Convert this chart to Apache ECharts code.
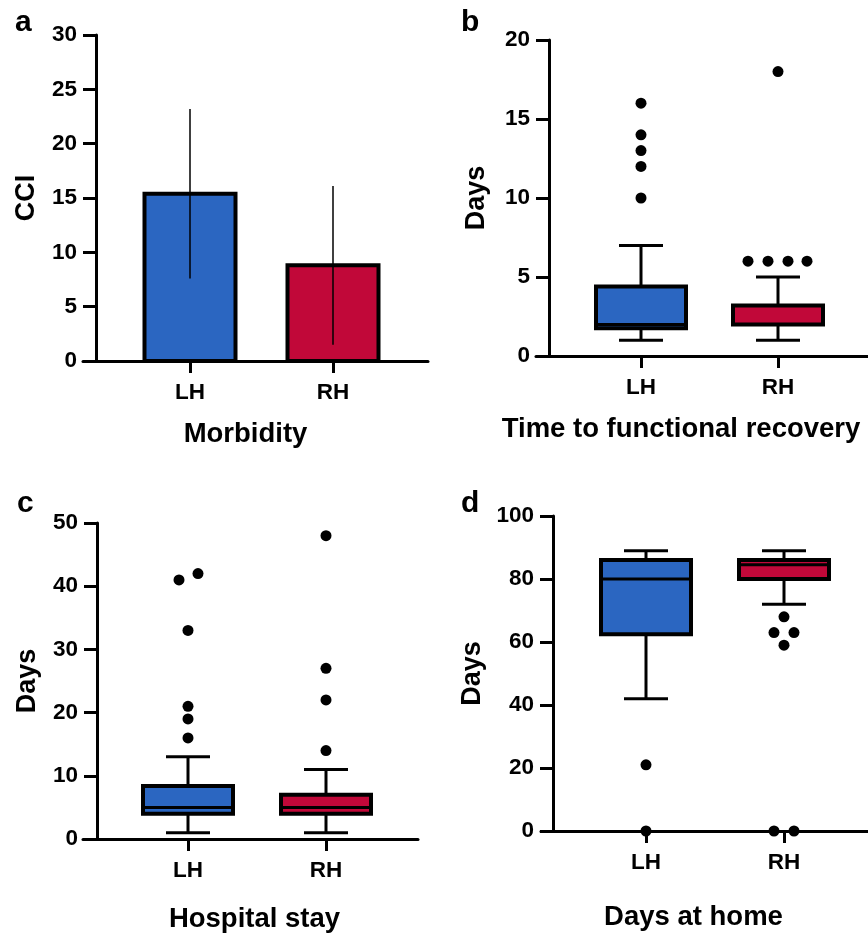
<!DOCTYPE html>
<html><head><meta charset="utf-8">
<script src="https://cdn.jsdelivr.net/npm/echarts@6/dist/echarts.min.js"></script>
<style>html,body{margin:0;padding:0;background:#fff}#c{width:868px;height:935px}</style>
</head><body><div id="c"></div>
<script>
// ---------- data ----------
const groups = ['LH', 'RH'];
const panelLetters = ['a', 'b', 'c', 'd'];
const xNames = ['Morbidity', 'Time to functional recovery', 'Hospital stay', 'Days at home'];
const yNames = ['CCI', 'Days', 'Days', 'Days'];
const yMax = [30, 20, 50, 100];
const yStep = [5, 5, 10, 20];

// a: CCI mean and SD
const cciMean = [15.4, 8.8];
const cciSD = [7.8, 7.3];

// box stats per group: [min whisker, Q1, median, Q3, max whisker]
const recoveryLH = [1, 1.75, 2, 4.4, 7];
const recoveryRH = [1, 2, 2, 3.2, 5];
const recoveryOutLH = [10, 12, 13, 14, 16];
const recoveryOutRH = [6, 6, 6, 6, 18];

const stayLH = [1, 4, 5, 8.4, 13];
const stayRH = [1, 4, 5, 7, 11];
const stayOutLH = [16, 19, 21, 33, 41, 42];
const stayOutRH = [14, 22, 27, 48];

const homeLH = [42, 62.5, 80, 86, 89];
const homeRH = [72, 80, 84.5, 86, 89];
const homeOutLH = [0, 21];
const homeOutRH = [0, 0, 59, 63, 63, 68];

// ---------- layout (pixels, styles) ----------
const LAY = [
  {left: 83,  right: 428, top: 35,  bottom: 361, yAxisX: 96,  lh: 190, rh: 333, nameGap: 59, namePad: [0, 20, 0, 0], yNameGap: 56},
  {left: 536, right: 868, top: 40,  bottom: 356, yAxisX: 549, lh: 641, rh: 778, nameGap: 59, namePad: [0, 42, 0, 0], yNameGap: 59},
  {left: 83,  right: 418, top: 523, bottom: 839, yAxisX: 97,  lh: 188, rh: 326, nameGap: 66, namePad: [0, 0, 0, 8], yNameGap: 56},
  {left: 541, right: 868, top: 516, bottom: 831, yAxisX: 553, lh: 646, rh: 784, nameGap: 72, namePad: [0, 22, 0, 0], yNameGap: 67}
];
const letterPos = [[15, 38], [461, 38], [17, 519], [461, 519]];
// horizontal pixel offsets of outlier dots (to avoid overlap)
const offRecoveryLH = [0, 0, 0, 0, 0];
const offRecoveryRH = [-30, -10, 10, 29, 0];
const offStayLH = [0, 0, 0, 0, -9, 10];
const offStayRH = [0, 0, 0, 0];
const offHomeLH = [0, 0];
const offHomeRH = [-10, 10, 0, -10, 10, 0];

const COLORS = ['#2B66C1', '#C10839'];
const FONT = '"Liberation Sans", Arial, Helvetica, sans-serif';
const BOX_W = 90, CAP_W = 44, BAR_W = 91, DOT = 11;

// ---------- build ----------
const grids = [], xAxes = [], yAxes = [], series = [];
LAY.forEach((L, i) => {
  const span = L.rh - L.lh;
  grids.push({left: L.left, top: L.top, width: L.right - L.left, height: L.bottom - L.top,
              outerBoundsMode: 'none', containLabel: false});
  xAxes.push({
    gridIndex: i, type: 'value',
    min: 1 - (L.lh - L.left) / span, max: 2 + (L.right - L.rh) / span,
    name: xNames[i], nameLocation: 'middle', nameGap: L.nameGap,
    nameTextStyle: {fontFamily: FONT, fontSize: 27.5, fontWeight: 'bold', color: '#000', padding: L.namePad},
    axisLine: {show: true, onZero: false, lineStyle: {color: '#000', width: 3}},
    axisTick: {show: true, customValues: [1, 2], length: 12, lineStyle: {color: '#000', width: 3}},
    axisLabel: {show: true, customValues: [1, 2], formatter: v => groups[Math.round(v) - 1] || '',
                margin: 20, fontFamily: FONT, fontSize: 22.5, fontWeight: 'bold', color: '#000'},
    splitLine: {show: false}
  });
  yAxes.push({
    gridIndex: i, type: 'value', min: 0, max: yMax[i], interval: yStep[i],
    offset: -(L.yAxisX - L.left),
    name: yNames[i], nameLocation: 'middle', nameGap: L.yNameGap,
    nameTextStyle: {fontFamily: FONT, fontSize: 27, fontWeight: 'bold', color: '#000'},
    axisLine: {show: true, onZero: false, lineStyle: {color: '#000', width: 3}},
    axisTick: {show: true, length: 13, lineStyle: {color: '#000', width: 3}},
    axisLabel: {margin: 19, fontFamily: FONT, fontSize: 22.5, fontWeight: 'bold', color: '#000'},
    splitLine: {show: false}
  });
});

// a: bars with SD error lines
series.push({
  type: 'custom', xAxisIndex: 0, yAxisIndex: 0,
  data: groups.map((g, k) => [k + 1, cciMean[k], cciSD[k]]),
  encode: {x: 0, y: 1},
  renderItem: function (params, api) {
    const x = api.value(0), m = api.value(1), sd = api.value(2);
    const p0 = api.coord([x, 0]), pm = api.coord([x, m]);
    const pHi = api.coord([x, m + sd]), pLo = api.coord([x, m - sd]);
    return {type: 'group', children: [
      {type: 'rect', shape: {x: p0[0] - BAR_W / 2, y: pm[1], width: BAR_W, height: p0[1] - pm[1]},
       style: {fill: COLORS[params.dataIndex], stroke: '#000', lineWidth: 4}},
      {type: 'line', shape: {x1: p0[0], y1: pLo[1], x2: p0[0], y2: pHi[1]},
       style: {stroke: '#000', lineWidth: 1.5}}
    ]};
  }
});

function boxSeries(idx, lhStats, rhStats) {
  return {
    type: 'custom', xAxisIndex: idx, yAxisIndex: idx,
    data: [[1].concat(lhStats), [2].concat(rhStats)],
    encode: {x: 0, y: [1, 2, 3, 4, 5]},
    renderItem: function (params, api) {
      const x = api.value(0);
      const c = v => api.coord([x, v]);
      const pMin = c(api.value(1)), pQ1 = c(api.value(2)), pMed = c(api.value(3)),
            pQ3 = c(api.value(4)), pMax = c(api.value(5));
      const cx = pMin[0];
      const ls = {stroke: '#000', lineWidth: 3};
      return {type: 'group', children: [
        {type: 'line', shape: {x1: cx, y1: pMin[1], x2: cx, y2: pQ1[1]}, style: ls},
        {type: 'line', shape: {x1: cx, y1: pQ3[1], x2: cx, y2: pMax[1]}, style: ls},
        {type: 'line', shape: {x1: cx - CAP_W / 2, y1: pMin[1], x2: cx + CAP_W / 2, y2: pMin[1]}, style: ls},
        {type: 'line', shape: {x1: cx - CAP_W / 2, y1: pMax[1], x2: cx + CAP_W / 2, y2: pMax[1]}, style: ls},
        {type: 'rect', shape: {x: cx - BOX_W / 2, y: pQ3[1], width: BOX_W, height: pQ1[1] - pQ3[1]},
         style: {fill: COLORS[params.dataIndex], stroke: '#000', lineWidth: 4}},
        {type: 'line', shape: {x1: cx - BOX_W / 2, y1: pMed[1], x2: cx + BOX_W / 2, y2: pMed[1]}, style: ls}
      ]};
    }
  };
}
function dotSeries(idx, outLH, offLH, outRH, offRH) {
  const data = [];
  outLH.forEach((v, k) => data.push({value: [1, v], symbolOffset: [offLH[k], 0]}));
  outRH.forEach((v, k) => data.push({value: [2, v], symbolOffset: [offRH[k], 0]}));
  return {type: 'scatter', xAxisIndex: idx, yAxisIndex: idx, data: data,
          symbol: 'circle', symbolSize: DOT, itemStyle: {color: '#000', opacity: 1}, z: 5, clip: false};
}
series.push(boxSeries(1, recoveryLH, recoveryRH));
series.push(dotSeries(1, recoveryOutLH, offRecoveryLH, recoveryOutRH, offRecoveryRH));
series.push(boxSeries(2, stayLH, stayRH));
series.push(dotSeries(2, stayOutLH, offStayLH, stayOutRH, offStayRH));
series.push(boxSeries(3, homeLH, homeRH));
series.push(dotSeries(3, homeOutLH, offHomeLH, homeOutRH, offHomeRH));

const graphic = panelLetters.map((t, i) => ({
  type: 'text', left: letterPos[i][0], top: letterPos[i][1] - 30,
  style: {text: t, font: 'bold 30px ' + FONT, fill: '#000'}
}));

const chart = echarts.init(document.getElementById('c'), null, {renderer: 'canvas'});
chart.setOption({
  animation: false, backgroundColor: '#fff',
  grid: grids, xAxis: xAxes, yAxis: yAxes, series: series, graphic: graphic
});
</script></body></html>
